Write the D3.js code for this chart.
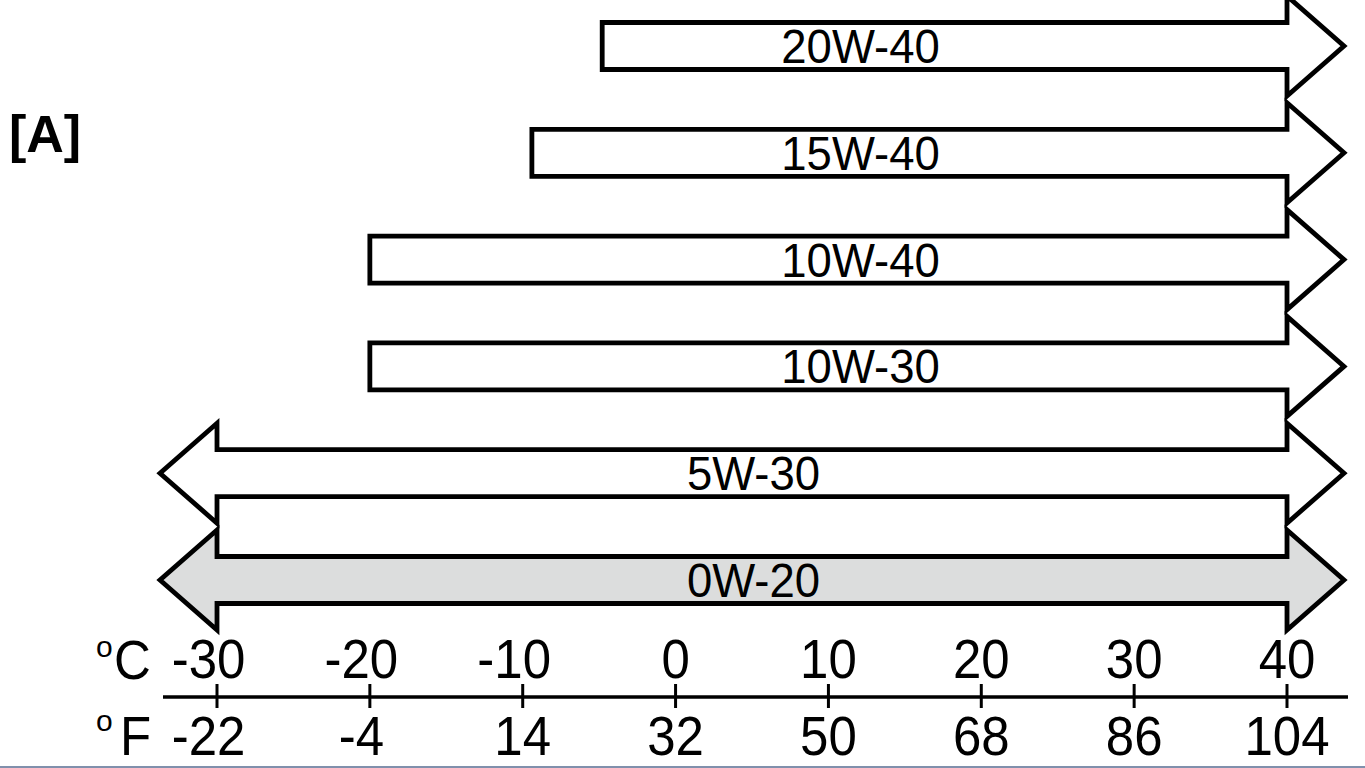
<!DOCTYPE html>
<html>
<head>
<meta charset="utf-8">
<script src="https://cdn.jsdelivr.net/npm/d3@7"></script>
<style>
  html, body { margin: 0; padding: 0; background: #ffffff; }
  svg { display: block; }
  text { font-family: "Liberation Sans", Arial, sans-serif; fill: #000; }
</style>
</head>
<body>
<script>
// ---- data ----
const grades   = ["20W-40", "15W-40", "10W-40", "10W-30", "5W-30", "0W-20"];
const lowC     = [-4.8, -9.4, -20, -20, -30, -30];
const highC    = [40, 40, 40, 40, 40, 40];
const lowHead  = [false, false, false, false, true, true];
const highHead = [true, true, true, true, true, true];
const labelC   = [12.1, 12.1, 12.1, 12.1, 5.1, 5.1];
const shaded   = [false, false, false, false, false, true];
const tickC    = [-30, -20, -10, 0, 10, 20, 30, 40];
const tickF    = ["-22", "-4", "14", "32", "50", "68", "86", "104"];
const panelLabel = "[A]";

// ---- layout ----
const W = 1365, H = 768;
const svg = d3.select("body").append("svg").attr("width", W).attr("height", H);

const x = d3.scaleLinear().domain([-30, 40]).range([217, 1287]);
const y = d3.scalePoint().domain(grades).range([46, 580]);

const bodyHalf = 23.5, headHalf = 50, headLen = 57;

function arrowPath(i) {
  const cy = y(grades[i]);
  const L = x(lowC[i]), R = x(highC[i]);
  const p = [];
  p.push([L, cy - bodyHalf]);
  p.push([R, cy - bodyHalf]);
  if (highHead[i]) {
    p.push([R, cy - headHalf], [R + headLen, cy], [R, cy + headHalf]);
  }
  p.push([R, cy + bodyHalf]);
  p.push([L, cy + bodyHalf]);
  if (lowHead[i]) {
    p.push([L, cy + headHalf], [L - headLen, cy], [L, cy - headHalf]);
  }
  return "M" + p.map(d => d.join(",")).join("L") + "Z";
}

const rows = svg.append("g").selectAll("g").data(grades).join("g");
rows.append("path")
  .attr("d", (d, i) => arrowPath(i))
  .attr("fill", (d, i) => shaded[i] ? "#dcdddd" : "#ffffff")
  .attr("stroke", "#000")
  .attr("stroke-width", 4.8)
  .attr("stroke-linejoin", "miter");
rows.append("text")
  .attr("transform", (d, i) => `translate(${x(labelC[i])},${y(d) + 17}) scale(1,1.06)`)
  .attr("text-anchor", "middle")
  .attr("font-size", 45.5)
  .text(d => d);

// ---- axis ----
const axisY = 697;
const ax = svg.append("g");
ax.append("line")
  .attr("x1", 163).attr("x2", 1348)
  .attr("y1", axisY).attr("y2", axisY)
  .attr("stroke", "#000").attr("stroke-width", 3.5);
ax.selectAll("line.tick").data(tickC).join("line")
  .attr("class", "tick")
  .attr("x1", d => x(d)).attr("x2", d => x(d))
  .attr("y1", axisY - 13).attr("y2", axisY + 11)
  .attr("stroke", "#000").attr("stroke-width", 3);

const minusShift = -8.5;
ax.selectAll("text.c").data(tickC).join("text")
  .attr("class", "c")
  .attr("transform", d => `translate(${x(d) + (d < 0 ? minusShift : 0)},678) scale(1,1.1)`)
  .attr("text-anchor", "middle")
  .attr("font-size", 51)
  .text(d => String(d));
ax.selectAll("text.f").data(tickF).join("text")
  .attr("class", "f")
  .attr("transform", (d, i) => `translate(${x(tickC[i]) + (d.startsWith("-") ? minusShift : 0)},755) scale(1,1.1)`)
  .attr("text-anchor", "middle")
  .attr("font-size", 51)
  .text(d => d);

// unit labels
svg.append("text").attr("x", 96).attr("y", 657).attr("font-size", 30).text("o");
svg.append("text").attr("transform", "translate(114,679) scale(1,1.08)").attr("font-size", 51).text("C");
svg.append("text").attr("x", 96).attr("y", 731).attr("font-size", 30).text("o");
svg.append("text").attr("transform", "translate(120,755) scale(1,1.08)").attr("font-size", 51).text("F");

// panel label
svg.append("text").attr("x", 9).attr("y", 152)
  .attr("font-size", 52).attr("font-weight", "bold").text(panelLabel);

// bottom frame edge
svg.append("line").attr("x1", 0).attr("x2", W).attr("y1", 767).attr("y2", 767)
  .attr("stroke", "#8090ac").attr("stroke-width", 2);
</script>
</body>
</html>
